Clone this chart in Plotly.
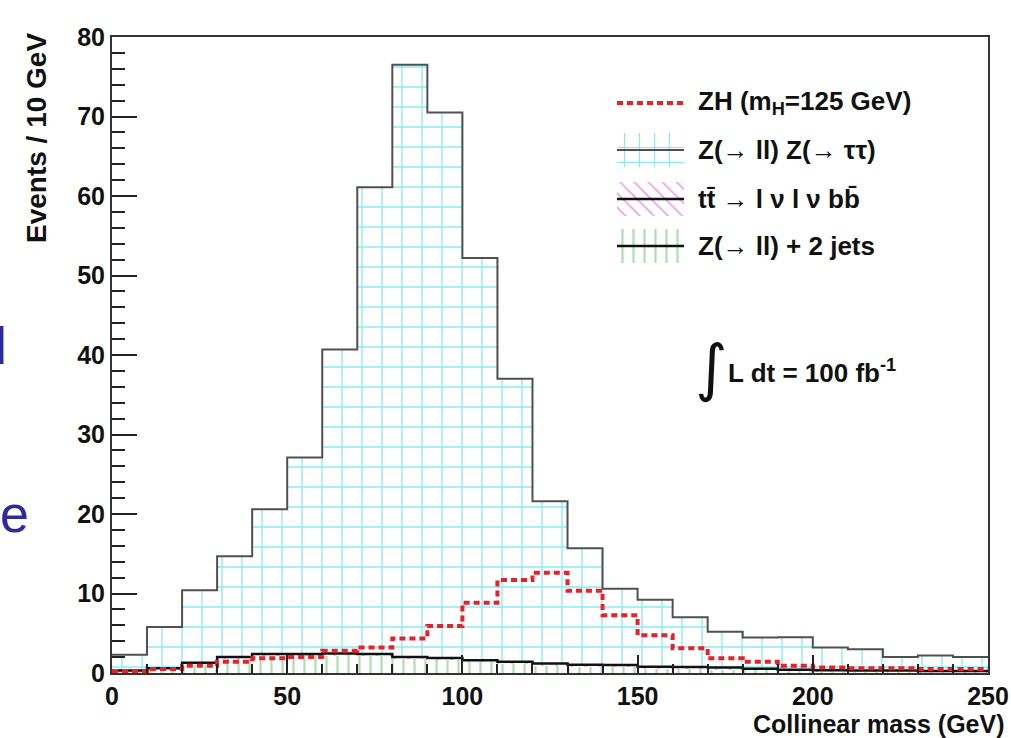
import numpy as np
import plotly.graph_objects as go

# ---------------- data ----------------
bin_edges = [0, 10, 20, 30, 40, 50, 60, 70, 80, 90, 100, 110, 120, 130, 140, 150,
             160, 170, 180, 190, 200, 210, 220, 230, 240, 250]

zjets = [0.2, 0.4, 1.0, 1.7, 2.1, 2.1, 2.2, 2.1, 1.8, 1.7, 1.4, 1.2, 1.0,
         0.85, 0.8, 0.6, 0.55, 0.5, 0.4, 0.3, 0.25, 0.2, 0.2, 0.15, 0.15]
ttbar = [0.1, 0.2, 0.3, 0.3, 0.3, 0.3, 0.25, 0.3, 0.2, 0.2, 0.2, 0.2, 0.2,
         0.2, 0.2, 0.2, 0.2, 0.2, 0.15, 0.1, 0.1, 0.1, 0.1, 0.1, 0.1]
zz = [2.0, 5.2, 9.1, 12.7, 18.2, 24.7, 38.25, 58.7, 74.5, 68.6, 50.6, 35.6, 20.4,
      14.65, 9.6, 8.4, 6.25, 4.5, 3.9, 4.1, 2.85, 2.7, 1.7, 1.95, 1.75]
zh = [0.25, 0.5, 0.9, 1.4, 1.85, 2.0, 2.8, 3.2, 4.35, 5.9, 8.85, 11.7, 12.6,
      10.35, 7.25, 4.75, 3.1, 1.85, 1.4, 0.9, 0.7, 0.6, 0.6, 0.5, 0.5]

legend_labels = ["ZH (m<sub>H</sub>=125 GeV)", "Z(→ ll) Z(→ ττ)",
                 "tt̄ → l ν l ν bb̄", "Z(→ ll) + 2 jets"]

y_ticks = [0, 10, 20, 30, 40, 50, 60, 70, 80]
x_ticks = [0, 50, 100, 150, 200, 250]

# ---------------- derived ----------------
edges = np.array(bin_edges, dtype=float)
centers = 0.5 * (edges[:-1] + edges[1:])
widths = np.diff(edges)
bkg_top = np.array(zjets) + np.array(ttbar)
total = bkg_top + np.array(zz)


def step(vals):
    v = np.asarray(vals, dtype=float)
    return np.append(v, v[-1])


# plot-area geometry in pixels
W, H = 1011, 738
L, R, T, B = 112, 988, 37, 673


def px(x):
    return (x - L) / (R - L)


def py(y):
    return (B - y) / (B - T)


FONT = "Liberation Sans, Arial, Helvetica, sans-serif"
INK = "#111111"

# styles
ZJ_PAT = dict(shape="|", fgcolor="#5cbf5c", bgcolor="white", size=11, solidity=0.2)
TT_PAT = dict(shape="\\", fgcolor="#e040e0", bgcolor="white", size=10, solidity=0.18)
ZZ_PAT = dict(shape="+", fgcolor="#10d8ee", bgcolor="white", size=20, solidity=0.13)
ZZ_PAT_LEG = dict(shape="+", fgcolor="#10d8ee", bgcolor="white", size=15, solidity=0.15)
ZH_LINE = dict(color="#e8202a", width=4, dash="6px,4px")

fig = go.Figure()

fig.add_trace(go.Bar(x=centers, y=zjets, width=widths, name="Z+jets",
                     marker=dict(color="white", line=dict(width=0), pattern=ZJ_PAT)))
fig.add_trace(go.Bar(x=centers, y=ttbar, width=widths, name="ttbar",
                     marker=dict(color="white", line=dict(width=0), pattern=TT_PAT)))
fig.add_trace(go.Bar(x=centers, y=zz, width=widths, name="ZZ",
                     marker=dict(color="white", line=dict(width=0), pattern=ZZ_PAT)))

# outlines
fig.add_trace(go.Scatter(x=edges, y=step(bkg_top), mode="lines",
                         line=dict(color=INK, width=2.5, shape="hv"), hoverinfo="skip"))
fig.add_trace(go.Scatter(x=edges, y=step(total), mode="lines",
                         line=dict(color="#505050", width=2, shape="hv"), hoverinfo="skip"))
fig.add_trace(go.Scatter(x=edges, y=step(zh), mode="lines", name="ZH",
                         line=dict(shape="hv", **ZH_LINE)))

# ---------------- hand-made ROOT-style legend ----------------
leg_rows = [103, 150, 199, 246]        # pixel centres of legend rows
sw_x0, sw_x1, sw_h = 617, 684, 34      # swatch extent in pixels

swatch_pats = [ZZ_PAT_LEG, TT_PAT, ZJ_PAT]
for pat, yc in zip(swatch_pats, leg_rows[1:]):
    fig.add_trace(go.Bar(x=[0.5], y=[sw_h], base=[yc - sw_h / 2], width=[1],
                         xaxis="x2", yaxis="y2", hoverinfo="skip",
                         marker=dict(color="white", line=dict(width=0), pattern=pat)))

shapes = [
    dict(type="line", xref="x2", yref="y2", x0=0, x1=1, y0=leg_rows[0], y1=leg_rows[0],
         line=ZH_LINE),
    dict(type="line", xref="x2", yref="y2", x0=0, x1=1, y0=leg_rows[1], y1=leg_rows[1],
         line=dict(color="#505050", width=2)),
    dict(type="line", xref="x2", yref="y2", x0=0, x1=1, y0=leg_rows[2], y1=leg_rows[2],
         line=dict(color=INK, width=2.5)),
    dict(type="line", xref="x2", yref="y2", x0=0, x1=1, y0=leg_rows[3], y1=leg_rows[3],
         line=dict(color=INK, width=2.5)),
]

axis_font = dict(family=FONT, size=25, color=INK, weight="bold")

fig.update_layout(
    width=W, height=H,
    margin=dict(l=L, r=W - R, t=T, b=H - B, pad=0),
    paper_bgcolor="white", plot_bgcolor="white",
    barmode="stack", bargap=0,
    showlegend=False,
    xaxis=dict(range=[0, 250], tickvals=x_ticks, ticks="inside", ticklen=18, tickwidth=2,
               tickcolor="#222222", showline=True, linecolor="#333333", linewidth=2, mirror=True,
               showgrid=False, zeroline=False, tickfont=axis_font, automargin=False,
               minor=dict(dtick=10, ticks="inside", ticklen=9, tickwidth=1.5, tickcolor="#222222")),
    yaxis=dict(range=[0, 80], tickvals=y_ticks, ticks="inside", ticklen=25, tickwidth=2,
               tickcolor="#222222", showline=True, linecolor="#333333", linewidth=2, mirror=True,
               showgrid=False, zeroline=False, tickfont=axis_font, automargin=False,
               minor=dict(dtick=2, ticks="inside", ticklen=13, tickwidth=2, tickcolor="#222222")),
    xaxis2=dict(domain=[px(sw_x0), px(sw_x1)], range=[0, 1], anchor="y2", visible=False,
                fixedrange=True),
    yaxis2=dict(domain=[py(280), py(80)], range=[280, 80], anchor="x2", visible=False,
                fixedrange=True),
    shapes=shapes,
)

annotations = [
    dict(text="Events / 10 GeV", textangle=-90, x=px(37), y=py(31), xanchor="center", yanchor="top",
         font=dict(family=FONT, size=28, color=INK, weight="bold")),
    dict(text="Collinear mass (GeV)", x=px(1006), y=py(724), xanchor="right", yanchor="middle",
         font=dict(family=FONT, size=25, color=INK, weight="bold")),
    dict(text="∫", x=px(711), y=py(368), xanchor="center", yanchor="middle",
         font=dict(family="DejaVu Sans, sans-serif", size=62, color=INK)),
    dict(text="L dt = 100 fb<sup>-1</sup>", x=px(726), y=py(372), xanchor="left", yanchor="middle",
         font=dict(family=FONT, size=26, color=INK, weight="bold")),
    dict(text="e", x=px(31), y=py(514), xanchor="right", yanchor="middle",
         font=dict(family=FONT, size=52, color="#2b2b9e")),
    dict(text="d", x=px(9), y=py(346), xanchor="right", yanchor="middle",
         font=dict(family=FONT, size=52, color="#2b2b9e")),
]
for lab, yc in zip(legend_labels, leg_rows):
    annotations.append(dict(text=lab, x=px(696), y=py(yc), xanchor="left", yanchor="middle",
                            font=dict(family=FONT, size=26, color=INK, weight="bold")))
for a in annotations:
    a.update(xref="paper", yref="paper", showarrow=False)
fig.update_layout(annotations=annotations)

fig.write_html("out.html")
